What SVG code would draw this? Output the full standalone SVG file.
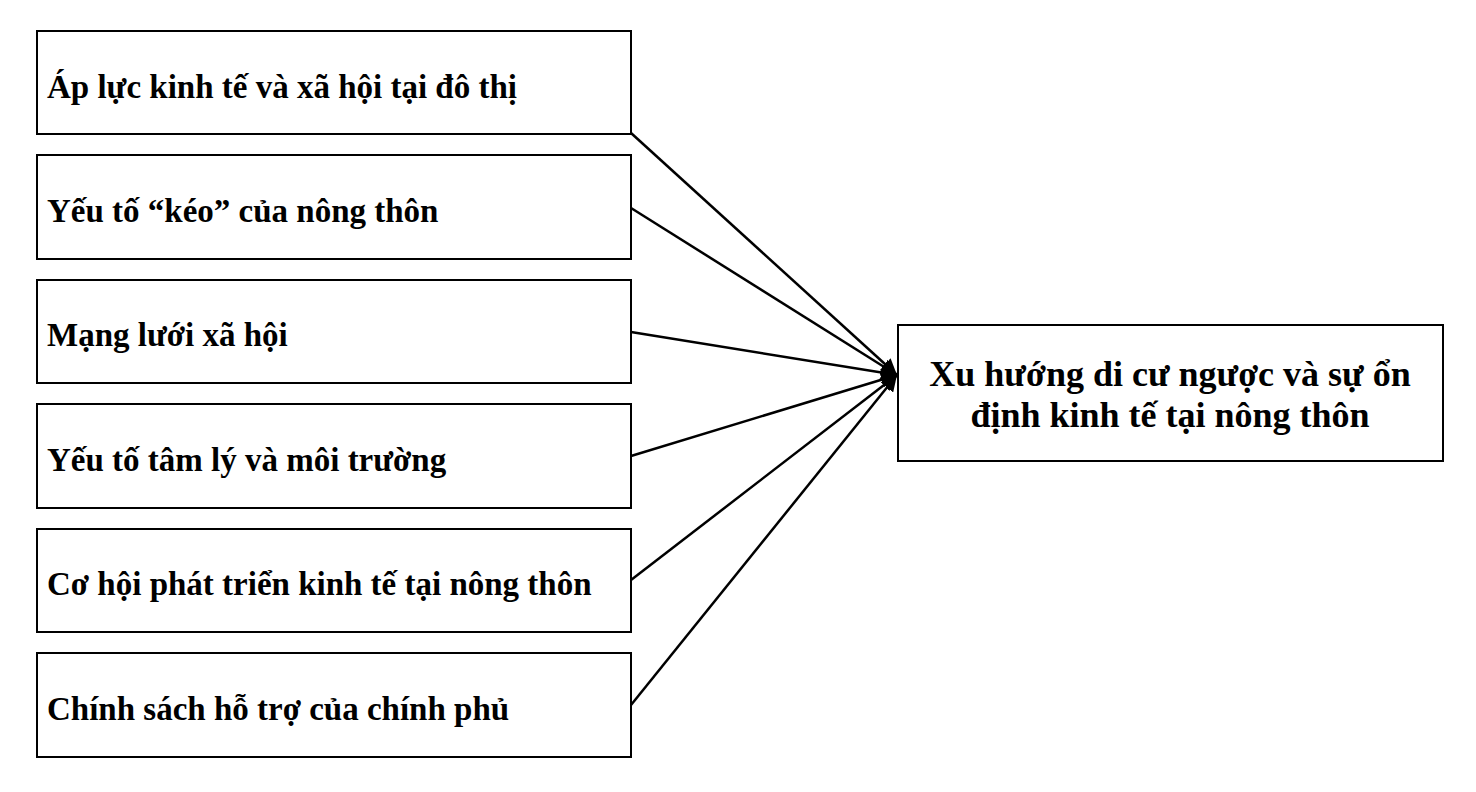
<svg xmlns="http://www.w3.org/2000/svg" width="1476" height="792" viewBox="0 0 1476 792">
<style>
.box{fill:#fff;stroke:#000;stroke-width:2}
.t{font-family:"Liberation Serif","Times New Roman",serif;font-weight:bold;font-size:33px;fill:#000}
.r{font-size:36px}
.c{stroke:#000;stroke-width:2.5;fill:none}
</style>
<defs>
<marker id="ah" viewBox="0 0 10 10" refX="10" refY="5" markerWidth="16" markerHeight="16" markerUnits="userSpaceOnUse" orient="auto">
<path d="M0,0 L10,5 L0,10 Z" fill="#000"/>
</marker>
</defs>
<rect width="1476" height="792" fill="#fff"/>
<g id="n1"><rect class="box" x="37" y="31" width="594" height="103"/><text class="t" x="47" y="98">Áp lực kinh tế và xã hội tại đô thị</text></g>
<g id="n2"><rect class="box" x="37" y="155" width="594" height="104"/><text class="t" x="47" y="222">Yếu tố “kéo” của nông thôn</text></g>
<g id="n3"><rect class="box" x="37" y="280" width="594" height="103"/><text class="t" x="47" y="346">Mạng lưới xã hội</text></g>
<g id="n4"><rect class="box" x="37" y="404" width="594" height="104"/><text class="t" x="47" y="471">Yếu tố tâm lý và môi trường</text></g>
<g id="n5"><rect class="box" x="37" y="529" width="594" height="103"/><text class="t" x="47" y="595">Cơ hội phát triển kinh tế tại nông thôn</text></g>
<g id="n6"><rect class="box" x="37" y="653" width="594" height="104"/><text class="t" x="47" y="720">Chính sách hỗ trợ của chính phủ</text></g>
<g id="n7"><rect class="box" x="898" y="325" width="545" height="136"/>
<text class="t r" x="1170" y="386" text-anchor="middle">Xu hướng di cư ngược và sự ổn</text>
<text class="t r" x="1170" y="427" text-anchor="middle">định kinh tế tại nông thôn</text></g>
<g id="connectors">
<line class="c" x1="631" y1="133" x2="897" y2="375" marker-end="url(#ah)"/>
<line class="c" x1="631" y1="208" x2="897" y2="375" marker-end="url(#ah)"/>
<line class="c" x1="631" y1="332" x2="897" y2="375" marker-end="url(#ah)"/>
<line class="c" x1="631" y1="456" x2="897" y2="375" marker-end="url(#ah)"/>
<line class="c" x1="631" y1="580" x2="897" y2="375" marker-end="url(#ah)"/>
<line class="c" x1="631" y1="705" x2="897" y2="375" marker-end="url(#ah)"/>
</g>
</svg>
